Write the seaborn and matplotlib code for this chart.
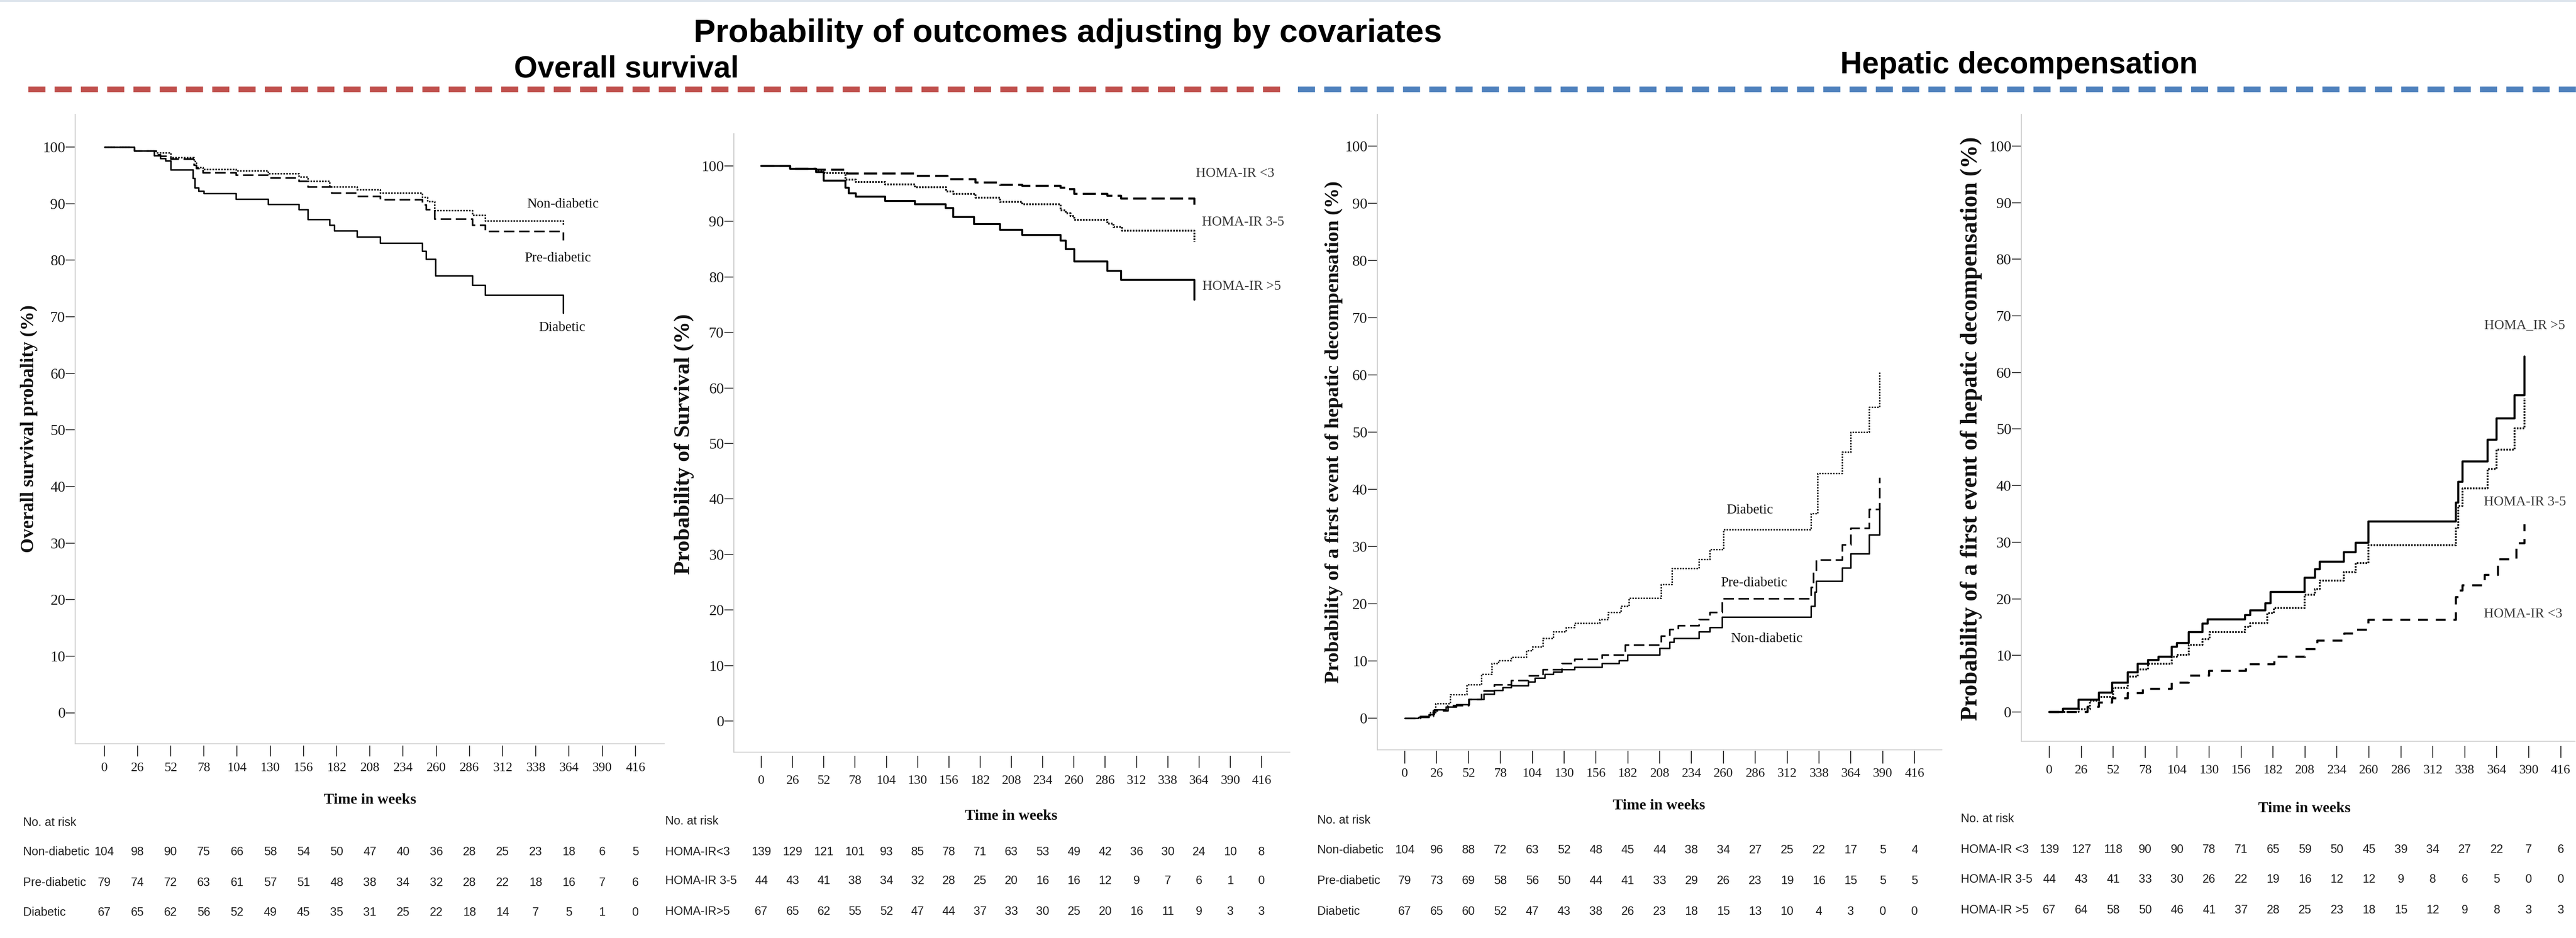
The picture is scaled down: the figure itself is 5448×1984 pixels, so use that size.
import numpy as np
import pandas as pd
import matplotlib
matplotlib.use("Agg")
import matplotlib.pyplot as plt
import seaborn as sns
from matplotlib import font_manager
from matplotlib.lines import Line2D
from matplotlib.transforms import blended_transform_factory

# ---------------------------------------------------------------- data
week_ticks = [0, 26, 52, 78, 104, 130, 156, 182, 208, 234, 260, 286, 312, 338, 364, 390, 416]
pct_ticks = [0, 10, 20, 30, 40, 50, 60, 70, 80, 90, 100]

# Panel 1: overall survival by diabetes status (%)
os_nondiab_t = [0, 23.6, 40.6, 52, 70, 72, 77.4, 103, 128.4, 152.5, 159.6, 176.6, 197.9, 216, 248.9, 253, 258.8, 288.5, 298.4, 359.4]
os_nondiab_s = [100, 99.3, 99.0, 98.2, 97.5, 96.4, 96.1, 95.8, 95.3, 94.7, 94.0, 93.0, 92.5, 91.9, 91.1, 90.4, 88.8, 88.0, 87.0, 86.2]
os_prediab_t = [0, 23.6, 40.6, 44, 52, 70, 72, 77.4, 103, 128.4, 152.5, 159.6, 178, 197.9, 216, 248.9, 252, 258.8, 288.5, 298.4, 359.4]
os_prediab_s = [100, 99.3, 98.7, 98.4, 97.9, 96.8, 96.2, 95.5, 95.1, 94.6, 94.0, 93.0, 91.9, 91.3, 90.7, 89.8, 89.0, 87.3, 86.2, 85.1, 83.5]
os_diab_t = [0, 23.6, 39, 44, 48, 52, 69.4, 71, 74, 78, 103, 128.4, 152.5, 159.6, 176.6, 180, 197.9, 216, 248.9, 252, 259.6, 288.5, 298.4, 359.4]
os_diab_s = [100, 99.3, 98.5, 98.0, 97.6, 96.0, 94.5, 92.8, 92.2, 91.8, 90.8, 89.9, 89.0, 87.2, 86.2, 85.2, 84.1, 83.0, 81.6, 80.2, 77.3, 75.6, 73.8, 70.7]

# Panel 2: overall survival by HOMA-IR (%)
os_homa_lt3_t = [0, 23.9, 45.5, 71, 127.7, 155, 178, 198.4, 217, 249, 253.2, 260.4, 287.8, 299.4, 360]
os_homa_lt3_s = [100, 99.5, 99.3, 98.6, 98.2, 97.6, 97.0, 96.6, 96.4, 96.1, 95.8, 95.0, 94.6, 94.1, 93.0]
os_homa_35_t = [0, 23.9, 45.5, 52.7, 70, 78.6, 103, 127.7, 153.7, 159.5, 178, 198.4, 217, 249, 253.2, 257, 260.4, 287.8, 293, 300, 360]
os_homa_35_s = [100, 99.5, 99.2, 98.7, 97.5, 97.1, 96.7, 96.2, 95.4, 95.0, 94.3, 93.5, 93.1, 92.0, 91.5, 91.0, 90.3, 89.6, 89.0, 88.3, 86.3]
os_homa_gt5_t = [0, 23.9, 45.5, 52, 70, 72.8, 78.6, 103, 127.7, 153.5, 159.5, 177, 198.4, 217, 249, 253.2, 260.4, 287.8, 299.4, 360]
os_homa_gt5_s = [100, 99.5, 98.9, 97.4, 96.1, 95.1, 94.5, 93.7, 93.1, 92.4, 90.8, 89.5, 88.5, 87.6, 86.5, 85.0, 82.8, 81.1, 79.5, 75.9]

# Panel 3: hepatic decompensation by diabetes status (%)
hd_diab_t = [0, 11, 21, 25, 37, 50.7, 62.7, 71, 76.5, 87, 99, 104, 112.7, 121, 131.7, 138.6, 159, 166, 176.5, 183, 209, 218, 240, 249, 260, 331.6, 336.8, 356.8, 364, 379, 387.4]
hd_diab_s = [0, 0.3, 1.0, 2.6, 4.1, 5.9, 7.7, 9.6, 10.1, 10.7, 11.8, 12.5, 14.0, 15.1, 15.9, 16.6, 17.3, 18.5, 19.6, 21.0, 23.4, 26.2, 27.8, 29.5, 33.0, 35.8, 42.8, 46.5, 50.0, 54.4, 60.5]
hd_prediab_t = [0, 12.8, 23, 35, 52, 62.7, 73, 87, 100.6, 112.7, 128, 138.6, 161, 180, 209, 216, 223, 240, 249, 259, 331.6, 333.5, 335.7, 356.8, 364, 379, 387.4]
hd_prediab_s = [0, 0.3, 1.3, 2.2, 3.3, 4.8, 5.9, 6.6, 7.4, 8.5, 9.6, 10.3, 11.1, 12.8, 14.4, 15.5, 16.2, 17.3, 18.5, 20.9, 22.9, 25.5, 27.7, 30.3, 33.2, 36.5, 42.1]
hd_nondiab_t = [0, 11, 19.6, 24, 33.4, 42, 52.4, 64.5, 73, 80, 87, 100.6, 106, 114.4, 121, 128, 138.6, 161, 175, 181.6, 208, 216, 219.6, 240, 249, 259, 331.6, 334.4, 335.7, 356.8, 364, 379, 387.4]
hd_nondiab_s = [0, 0.2, 0.7, 1.5, 2.0, 2.4, 3.3, 4.2, 4.9, 5.4, 5.7, 6.4, 7.0, 7.7, 8.1, 8.5, 8.9, 9.6, 10.1, 11.1, 12.2, 13.3, 14.0, 15.1, 15.9, 17.7, 19.6, 22.1, 24.0, 26.3, 28.8, 32.1, 36.9]

# Panel 4: hepatic decompensation by HOMA-IR (%)
hd_homa_gt5_t = [0, 11, 23.7, 40.3, 51.3, 63.8, 72.1, 80.4, 88.7, 99.8, 103.9, 113.6, 124.7, 128.8, 159.2, 163.4, 175.8, 180, 207.7, 216, 220.1, 239.5, 249.2, 259.7, 330.8, 332.8, 336.3, 356.5, 363.8, 378.5, 386.5]
hd_homa_gt5_s = [0, 0.6, 2.2, 3.4, 5.2, 7.0, 8.5, 9.2, 9.8, 11.5, 12.2, 14.1, 15.6, 16.4, 17.1, 18.0, 19.2, 21.2, 23.7, 25.2, 26.6, 28.2, 29.9, 33.7, 37.0, 40.7, 44.3, 48.1, 51.9, 56.0, 62.8]
hd_homa_35_t = [0, 23.7, 33, 40.3, 52, 63.8, 72.1, 80.4, 99.8, 103.9, 113.6, 124.7, 130.2, 159.2, 163.4, 177.2, 182.8, 207.7, 216, 220.1, 239.5, 249.2, 259.7, 330.8, 332.8, 336.3, 356.5, 363.8, 378.5, 386.5]
hd_homa_35_s = [0, 0.5, 2.0, 2.7, 4.3, 6.3, 7.5, 8.5, 9.8, 10.1, 11.9, 12.9, 14.1, 15.0, 15.7, 17.5, 18.4, 20.7, 21.7, 23.2, 24.7, 26.3, 29.5, 32.6, 36.4, 39.5, 42.9, 46.4, 50.1, 55.5]
hd_homa_lt3_t = [0, 31, 40.3, 51.3, 64, 76, 99.8, 113.6, 130, 160, 183, 208, 218, 240, 249, 259.7, 330.8, 333, 336.3, 354.3, 365, 380, 386.5]
hd_homa_lt3_s = [0, 0.9, 1.7, 2.4, 3.3, 4.1, 5.2, 6.4, 7.3, 8.4, 9.8, 11.1, 12.6, 13.9, 14.5, 16.3, 20.3, 21.5, 22.4, 24.2, 27.0, 29.8, 33.2]

# Numbers at risk
risk_groups_diab = ["Non-diabetic", "Pre-diabetic", "Diabetic"]
risk_groups_homa2 = ["HOMA-IR<3", "HOMA-IR 3-5", "HOMA-IR>5"]
risk_groups_homa4 = ["HOMA-IR <3", "HOMA-IR 3-5", "HOMA-IR >5"]
rt1_nondiab = [104, 98, 90, 75, 66, 58, 54, 50, 47, 40, 36, 28, 25, 23, 18, 6, 5]
rt1_prediab = [79, 74, 72, 63, 61, 57, 51, 48, 38, 34, 32, 28, 22, 18, 16, 7, 6]
rt1_diab = [67, 65, 62, 56, 52, 49, 45, 35, 31, 25, 22, 18, 14, 7, 5, 1, 0]
rt2_lt3 = [139, 129, 121, 101, 93, 85, 78, 71, 63, 53, 49, 42, 36, 30, 24, 10, 8]
rt2_35 = [44, 43, 41, 38, 34, 32, 28, 25, 20, 16, 16, 12, 9, 7, 6, 1, 0]
rt2_gt5 = [67, 65, 62, 55, 52, 47, 44, 37, 33, 30, 25, 20, 16, 11, 9, 3, 3]
rt3_nondiab = [104, 96, 88, 72, 63, 52, 48, 45, 44, 38, 34, 27, 25, 22, 17, 5, 4]
rt3_prediab = [79, 73, 69, 58, 56, 50, 44, 41, 33, 29, 26, 23, 19, 16, 15, 5, 5]
rt3_diab = [67, 65, 60, 52, 47, 43, 38, 26, 23, 18, 15, 13, 10, 4, 3, 0, 0]
rt4_lt3 = [139, 127, 118, 90, 90, 78, 71, 65, 59, 50, 45, 39, 34, 27, 22, 7, 6]
rt4_35 = [44, 43, 41, 33, 30, 26, 22, 19, 16, 12, 12, 9, 8, 6, 5, 0, 0]
rt4_gt5 = [67, 64, 58, 50, 46, 41, 37, 28, 25, 23, 18, 15, 12, 9, 8, 3, 3]

# ---------------------------------------------------------------- style
sns.set_theme(style="white")
plt.rcParams["font.family"] = ["Liberation Serif", "DejaVu Serif"]
plt.rcParams["lines.scale_dashes"] = False
plt.rcParams["axes.facecolor"] = "white"

installed = {f.name for f in font_manager.fontManager.ttflist}
if "Liberation Sans Narrow" in installed:
    TABLE_FONT = ["Liberation Sans Narrow", "Liberation Sans", "DejaVu Sans"]
    TABLE_SIZE = 22
else:
    TABLE_FONT = ["Liberation Sans", "DejaVu Sans"]
    TABLE_SIZE = 18
SANS = ["Liberation Sans", "DejaVu Sans"]

W, H = 5448, 1984
fig = plt.figure(figsize=(W / 100, H / 100), dpi=100)
fig.patch.set_facecolor("white")

def fxp(px):
    return px / W

def fyp(py):
    return 1 - py / H

PT = 0.72  # points per pixel at 100 dpi

SOLID = "-"
def dash(on, off):
    return (0, (on, off))

panels = [
    dict(L=159, R=1405, T=242, B=1573, x0=220.5, x416=1343.75, y0=1507.5, y100=311,
         off=4, tlen=23, pad=12,
         ylabel="Overall survival probality (%)", ylsize=29, ylpos=(62, 907),
         xlpos=(783, 1692),
         curves=[(os_nondiab_t, os_nondiab_s, dash(2.4, 2.0), 2.3),
                 (os_prediab_t, os_prediab_s, dash(16, 7), 2.5),
                 (os_diab_t, os_diab_s, SOLID, 2.3)],
         notes=[("Non-diabetic", 359, 89.9), ("Pre-diabetic", 355, 80.4), ("Diabetic", 358.7, 68.1)],
         notecolor="#111111",
         rlabel_x=49, rhead_y=1740, rrows_y=[1802, 1867, 1930],
         rgroups=risk_groups_diab, rvals=[rt1_nondiab, rt1_prediab, rt1_diab]),
    dict(L=1552, R=2728, T=282.5, B=1590.5, x0=1610, x416=2668, y0=1525, y100=351,
         off=8, tlen=25, pad=16,
         ylabel="Probability of Survival (%)", ylsize=34, ylpos=(1447, 939),
         xlpos=(2139, 1727),
         curves=[(os_homa_lt3_t, os_homa_lt3_s, dash(20, 8), 3.2),
                 (os_homa_35_t, os_homa_35_s, dash(2.4, 2.0), 2.8),
                 (os_homa_gt5_t, os_homa_gt5_s, SOLID, 3.0)],
         notes=[("HOMA-IR <3", 394, 98.6), ("HOMA-IR 3-5", 400.5, 89.9), ("HOMA-IR >5", 399.7, 78.3)],
         notecolor="#3a3a3a",
         rlabel_x=1407, rhead_y=1737, rrows_y=[1802, 1863, 1928],
         rgroups=risk_groups_homa2, rvals=[rt2_lt3, rt2_35, rt2_gt5]),
    dict(L=2912.5, R=4107, T=242, B=1586, x0=2971, x416=4049, y0=1519, y100=309,
         off=2, tlen=27, pad=9,
         ylabel="Probability of a first event of hepatic decompensation (%)", ylsize=31, ylpos=(2821, 914),
         xlpos=(3509, 1705),
         curves=[(hd_diab_t, hd_diab_s, dash(2.2, 2.0), 2.2),
                 (hd_prediab_t, hd_prediab_s, dash(16, 7), 2.5),
                 (hd_nondiab_t, hd_nondiab_s, SOLID, 2.3)],
         notes=[("Diabetic", 281.6, 36.4), ("Pre-diabetic", 285, 23.6), ("Non-diabetic", 295.5, 13.9)],
         notecolor="#111111",
         rlabel_x=2786, rhead_y=1735, rrows_y=[1798, 1863, 1928],
         rgroups=risk_groups_diab, rvals=[rt3_nondiab, rt3_prediab, rt3_diab]),
    dict(L=4274.5, R=5446, T=242, B=1568, x0=4334, x416=5415.6, y0=1506, y100=309,
         off=10, tlen=25, pad=14,
         ylabel="Probability of a first event of hepatic decompensation (%)", ylsize=36, ylpos=(4169, 907),
         xlpos=(4874, 1710),
         curves=[(hd_homa_lt3_t, hd_homa_lt3_s, dash(15, 12), 3.2),
                 (hd_homa_35_t, hd_homa_35_s, dash(2.4, 2.0), 2.8),
                 (hd_homa_gt5_t, hd_homa_gt5_s, SOLID, 3.2)],
         notes=[("HOMA_IR >5", 386.9, 68.3), ("HOMA-IR 3-5", 387, 37.1), ("HOMA-IR <3", 385.4, 17.3)],
         notecolor="#3a3a3a",
         rlabel_x=4147, rhead_y=1732, rrows_y=[1797, 1860, 1925],
         rgroups=risk_groups_homa4, rvals=[rt4_lt3, rt4_35, rt4_gt5]),
]

for p in panels:
    L, R, T, B = p["L"], p["R"], p["T"], p["B"]
    ax = fig.add_axes([fxp(L), fyp(B), (R - L) / W, (B - T) / H])
    xs = 416 / (p["x416"] - p["x0"])
    ys = 100 / (p["y0"] - p["y100"])
    xlim = ((L - p["x0"]) * xs, (R - p["x0"]) * xs)
    ylim = ((p["y0"] - B) * ys, (p["y0"] - T) * ys)

    for t, s, ls, lw in p["curves"]:
        df = pd.DataFrame({"week": t, "pct": s})
        sns.lineplot(data=df, x="week", y="pct", ax=ax, estimator=None, sort=False,
                     drawstyle="steps-post", color="black", linewidth=lw,
                     linestyle=ls, legend=False)

    ax.set_xlim(*xlim)
    ax.set_ylim(*ylim)
    ax.set_xticks(week_ticks)
    ax.set_xticklabels([str(v) for v in week_ticks])
    ax.set_yticks(pct_ticks)
    ax.set_yticklabels([str(v) for v in pct_ticks])

    for side in ["top", "right"]:
        ax.spines[side].set_visible(False)
    ax.spines["left"].set_color("#cfcfcf")
    ax.spines["left"].set_linewidth(1.6)
    ax.spines["bottom"].set_position(("outward", p["off"] * PT))
    ax.spines["bottom"].set_visible(False)
    ax.axhline(ylim[0], color="#d6d6d6", lw=1.6, clip_on=False, zorder=0)

    ax.tick_params(axis="x", direction="out", length=p["tlen"] * PT, width=1.5,
                   color="#333333", pad=p["pad"] * PT, labelsize=20, labelcolor="#1a1a1a",
                   bottom=True)
    ax.tick_params(axis="y", direction="out", length=20 * PT, width=1.5,
                   color="#444444", pad=0.5, labelsize=23, labelcolor="#1a1a1a", left=True)

    ax.set_ylabel(p["ylabel"], fontsize=p["ylsize"], fontweight="bold", color="#111111")
    ax.yaxis.set_label_coords(fxp(p["ylpos"][0]), fyp(p["ylpos"][1]), transform=fig.transFigure)
    ax.yaxis.label.set_va("center")
    ax.yaxis.label.set_ha("center")

    ax.set_xlabel("Time in weeks", fontsize=23, fontweight="bold", color="#111111")
    ax.xaxis.set_label_coords(fxp(p["xlpos"][0]), fyp(p["xlpos"][1]), transform=fig.transFigure)
    ax.xaxis.label.set_va("center")

    for txt, xv, yv in p["notes"]:
        ax.text(xv, yv, txt, fontsize=21, ha="center", va="center", color=p["notecolor"],
                clip_on=False)

    # numbers-at-risk table
    fig.text(fxp(p["rlabel_x"]), fyp(p["rhead_y"]), "No. at risk", family=TABLE_FONT,
             fontsize=TABLE_SIZE, ha="left", va="center", color="#222222")
    trans = blended_transform_factory(ax.transData, fig.transFigure)
    for grp, vals, ry in zip(p["rgroups"], p["rvals"], p["rrows_y"]):
        fig.text(fxp(p["rlabel_x"]), fyp(ry), grp, family=TABLE_FONT, fontsize=TABLE_SIZE,
                 ha="left", va="center", color="#222222")
        for wk, n in zip(week_ticks, vals):
            ax.text(wk, fyp(ry), str(n), transform=trans, family=TABLE_FONT,
                    fontsize=TABLE_SIZE, ha="center", va="center", color="#222222",
                    clip_on=False)

# ---------------------------------------------------------------- headings
fig.text(fxp(2258), fyp(89), "Probability of outcomes adjusting by covariates",
         family=SANS, fontsize=50, fontweight="bold", ha="center", va="baseline", color="black")
fig.text(fxp(1325), fyp(163), "Overall survival", family=SANS, fontsize=46,
         fontweight="bold", ha="center", va="baseline", color="black")
fig.text(fxp(4270), fyp(155), "Hepatic decompensation", family=SANS, fontsize=46,
         fontweight="bold", ha="center", va="baseline", color="black")

fig.add_artist(Line2D([fxp(60), fxp(2722)], [fyp(189), fyp(189)], transform=fig.transFigure,
                      color="#C0504D", lw=12 * PT, linestyle=(0, (26, 14))))
fig.add_artist(Line2D([fxp(2745), fxp(5448)], [fyp(189), fyp(189)], transform=fig.transFigure,
                      color="#4F81BD", lw=12 * PT, linestyle=(0, (26, 14))))
fig.add_artist(Line2D([0, 1], [fyp(2), fyp(2)], transform=fig.transFigure,
                      color="#dde4ec", lw=4 * PT))

fig.savefig("out.png", dpi=100, facecolor="white")
